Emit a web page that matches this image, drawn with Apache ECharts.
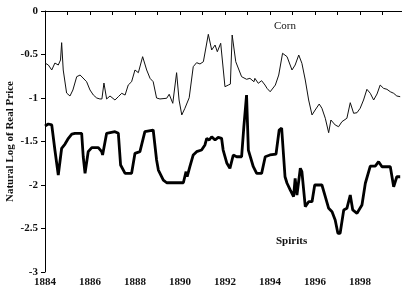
<!DOCTYPE html>
<html>
<head>
<meta charset="utf-8">
<script src="https://cdn.jsdelivr.net/npm/echarts@6/dist/echarts.min.js"></script>
<style>
html,body{margin:0;padding:0;background:#fff;}
#chart{width:402px;height:290px;}
</style>
</head>
<body>
<div id="chart"></div>
<script>
// Corn: [year, natural log of real price]
const cornYears = [1884.00,1884.15,1884.30,1884.44,1884.59,1884.69,1884.74,1884.81,1884.96,1885.11,1885.24,1885.41,1885.56,1885.69,1885.85,1886.00,1886.15,1886.30,1886.44,1886.53,1886.62,1886.74,1886.89,1887.11,1887.26,1887.41,1887.56,1887.70,1887.85,1888.00,1888.15,1888.34,1888.52,1888.67,1888.81,1888.96,1889.11,1889.41,1889.52,1889.68,1889.75,1889.85,1889.96,1890.08,1890.22,1890.41,1890.59,1890.74,1890.89,1891.04,1891.26,1891.41,1891.56,1891.66,1891.81,1892.00,1892.15,1892.24,1892.32,1892.48,1892.56,1892.74,1892.96,1893.11,1893.29,1893.33,1893.48,1893.63,1893.78,1893.87,1894.01,1894.24,1894.39,1894.56,1894.76,1894.98,1895.12,1895.28,1895.42,1895.57,1895.72,1895.87,1896.01,1896.19,1896.31,1896.46,1896.61,1896.71,1896.90,1897.05,1897.20,1897.42,1897.57,1897.72,1897.87,1898.01,1898.16,1898.31,1898.46,1898.61,1898.76,1898.90,1899.05,1899.20,1899.35,1899.50,1899.64,1899.79];
const cornValues = [-0.598,-0.621,-0.678,-0.598,-0.621,-0.563,-0.364,-0.678,-0.943,-0.977,-0.908,-0.755,-0.736,-0.770,-0.813,-0.908,-0.966,-1.000,-1.011,-1.011,-0.828,-1.011,-0.977,-1.023,-0.985,-0.946,-0.966,-0.851,-0.813,-0.678,-0.709,-0.525,-0.678,-0.774,-0.813,-1.000,-1.011,-1.003,-0.957,-1.061,-1.069,-0.709,-1.023,-1.195,-1.118,-0.997,-0.640,-0.594,-0.609,-0.583,-0.268,-0.448,-0.391,-0.468,-0.371,-0.870,-0.851,-0.840,-0.276,-0.583,-0.575,-0.755,-0.785,-0.774,-0.813,-0.774,-0.831,-0.801,-0.851,-0.889,-0.928,-0.851,-0.736,-0.486,-0.525,-0.678,-0.621,-0.506,-0.601,-0.793,-1.023,-1.195,-1.138,-1.069,-1.118,-1.233,-1.399,-1.253,-1.310,-1.330,-1.272,-1.233,-1.054,-1.176,-1.169,-1.118,-1.023,-0.900,-0.946,-1.023,-0.954,-0.851,-0.889,-0.900,-0.928,-0.946,-0.977,-0.985];

// Spirits: [year, natural log of real price]
const spiritsYears = [1884.00,1884.15,1884.30,1884.44,1884.59,1884.74,1884.89,1885.04,1885.19,1885.33,1885.63,1885.70,1885.78,1885.92,1886.08,1886.37,1886.52,1886.56,1886.74,1887.11,1887.26,1887.36,1887.56,1887.85,1888.00,1888.22,1888.44,1888.81,1888.96,1889.04,1889.26,1889.41,1890.15,1890.27,1890.32,1890.44,1890.59,1890.74,1890.96,1891.11,1891.19,1891.30,1891.41,1891.56,1891.70,1891.85,1891.92,1892.08,1892.22,1892.37,1892.52,1892.74,1892.84,1892.96,1893.04,1893.11,1893.26,1893.41,1893.63,1893.79,1894.00,1894.27,1894.41,1894.52,1894.67,1894.76,1894.90,1895.05,1895.12,1895.20,1895.35,1895.42,1895.57,1895.72,1895.87,1895.99,1896.31,1896.46,1896.61,1896.76,1896.90,1897.02,1897.12,1897.28,1897.42,1897.57,1897.68,1897.87,1898.09,1898.24,1898.46,1898.68,1898.83,1898.98,1899.35,1899.50,1899.64,1899.79];
const spiritsValues = [-1.322,-1.299,-1.310,-1.598,-1.885,-1.578,-1.529,-1.463,-1.414,-1.406,-1.406,-1.675,-1.866,-1.617,-1.571,-1.571,-1.617,-1.655,-1.406,-1.387,-1.406,-1.770,-1.866,-1.866,-1.636,-1.617,-1.387,-1.368,-1.713,-1.828,-1.943,-1.974,-1.974,-1.847,-1.905,-1.790,-1.655,-1.617,-1.598,-1.540,-1.463,-1.483,-1.445,-1.483,-1.452,-1.463,-1.598,-1.747,-1.808,-1.655,-1.675,-1.675,-1.330,-0.966,-1.598,-1.617,-1.790,-1.866,-1.866,-1.675,-1.655,-1.644,-1.368,-1.345,-1.905,-1.980,-2.057,-2.134,-1.923,-2.115,-1.808,-1.847,-2.249,-2.192,-2.192,-2.000,-2.000,-2.134,-2.268,-2.307,-2.402,-2.555,-2.555,-2.287,-2.268,-2.115,-2.287,-2.325,-2.230,-1.980,-1.782,-1.782,-1.732,-1.790,-1.790,-2.020,-1.905,-1.905];

const xMin = 1884, xMax = 1899.87;
const yTicks = [0, -0.5, -1, -1.5, -2, -2.5, -3];
const seriesLabels = ['Corn', 'Spirits'];
const yName = 'Natural Log of Real Price';

const zip = (a, b) => a.map((v, i) => [v, b[i]]);
const FONT = '"Liberation Serif", "DejaVu Serif", serif';

const chart = echarts.init(document.getElementById('chart'));
chart.setOption({
  animation: false,
  backgroundColor: '#ffffff',
  grid: { left: 45, top: 11, right: 0, bottom: 18, containLabel: false, outerBoundsMode: 'none' },
  xAxis: {
    type: 'value', min: xMin, max: xMax, interval: 1,
    axisLine: { lineStyle: { color: '#000', width: 1 } },
    axisTick: { length: 4, lineStyle: { color: '#000' } },
    splitLine: { show: false },
    axisLabel: {
      margin: 5, color: '#111', fontFamily: FONT, fontSize: 11, fontWeight: 'bold',
      alignMinLabel: 'center', alignMaxLabel: 'center',
      formatter: v => (Number.isInteger(v) && v % 2 === 0) ? String(v) : ''
    }
  },
  yAxis: {
    type: 'value', min: yTicks[yTicks.length - 1], max: yTicks[0], interval: 0.5,
    name: yName, nameLocation: 'middle', nameGap: 29, nameMoveOverlap: false,
    nameTextStyle: { color: '#111', fontFamily: FONT, fontSize: 11, fontWeight: 'bold' },
    axisLine: { show: true, lineStyle: { color: '#000', width: 1 } },
    axisTick: { show: true, length: 4, lineStyle: { color: '#000' } },
    splitLine: { show: false },
    axisLabel: { margin: 7, color: '#111', fontFamily: FONT, fontSize: 11, fontWeight: 'bold' }
  },
  series: [
    { name: seriesLabels[0], type: 'line', data: zip(cornYears, cornValues), showSymbol: false,
      lineStyle: { color: '#111', width: 1 }, z: 3 },
    { name: seriesLabels[1], type: 'line', data: zip(spiritsYears, spiritsValues), showSymbol: false,
      lineStyle: { color: '#000', width: 2.8 }, z: 4 }
  ],
  graphic: [
    { type: 'text', left: 274, top: 21, style: { text: seriesLabels[0], font: '11px ' + FONT, fill: '#111' } },
    { type: 'text', left: 276, top: 236, style: { text: seriesLabels[1], font: 'bold 11px ' + FONT, fill: '#111' } }
  ]
});
</script>
</body>
</html>
